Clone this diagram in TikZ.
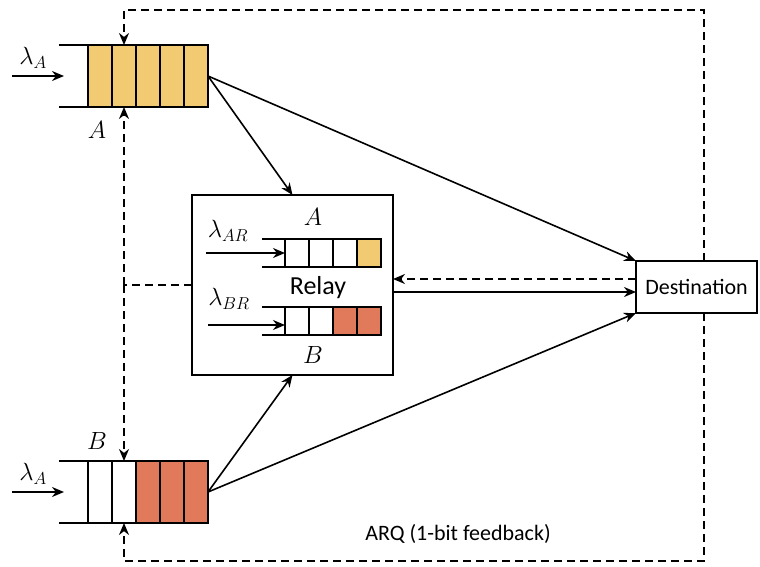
\documentclass[tikz,border=0pt]{standalone}
\usepackage{amsmath}
\usepackage{fontspec}
\setmainfont{Carlito}
\usepackage{tikz}
\usetikzlibrary{shapes.geometric, arrows.meta, positioning}
\definecolor{qyellow}{HTML}{F2CA72}
\definecolor{qred}{HTML}{E07A5A}
\tikzstyle{cell} = [rectangle, draw=black, line width=1.8pt, minimum width=24pt, minimum height=62pt, inner sep=0pt, outer sep=0pt]
\tikzstyle{smallcell} = [rectangle, draw=black, line width=1.8pt, minimum width=24pt, minimum height=28pt, inner sep=0pt, outer sep=0pt]
\tikzstyle{box} = [rectangle, draw=black, line width=1.5pt, text centered, outer sep=0pt]
\tikzstyle{arrow} = [line width=1.6pt,->,>={Stealth[length=12pt,width=10pt]}]
\tikzstyle{fb} = [line width=1.6pt, dash pattern=on 8pt off 5pt]
\tikzstyle{fbarrow} = [fb,->,>={Stealth[length=12pt,width=10pt]}]
\tikzstyle{mathlabel} = [font=\fontsize{26}{30}\selectfont]

\begin{document}
\begin{tikzpicture}[x=1pt, y=-1pt, node distance=24pt, font=\fontsize{22}{26}\selectfont]
    \useasboundingbox (0,0) rectangle (760,566);

    % queue A
    \node (qA1) [cell, fill=qyellow] at (100,76) {};
    \node (qA2) [cell, fill=qyellow, right of=qA1] {};
    \node (qA3) [cell, fill=qyellow, right of=qA2] {};
    \node (qA4) [cell, fill=qyellow, right of=qA3] {};
    \node (qA5) [cell, fill=qyellow, right of=qA4] {};
    \draw [line width=1.8pt] (qA1.north west) -- +(-29,0);
    \draw [line width=1.8pt] (qA1.south west) -- +(-29,0);
    \node (lamA) [mathlabel] at (33,58) {$\lambda_A$};
    \node (labA) [mathlabel] at (97,130) {$A$};
    \coordinate (inA) at (12,76);
    \coordinate (inAend) at (64,76);
    \draw [arrow] (inA) -- (inAend);

    % queue B
    \node (qB1) [cell] at (100,492) {};
    \node (qB2) [cell, right of=qB1] {};
    \node (qB3) [cell, fill=qred, right of=qB2] {};
    \node (qB4) [cell, fill=qred, right of=qB3] {};
    \node (qB5) [cell, fill=qred, right of=qB4] {};
    \draw [line width=1.8pt] (qB1.north west) -- +(-29,0);
    \draw [line width=1.8pt] (qB1.south west) -- +(-29,0);
    \node (lamB) [mathlabel] at (33,474) {$\lambda_A$};
    \node (labB) [mathlabel] at (97,441) {$B$};
    \coordinate (inB) at (12,492);
    \coordinate (inBend) at (64,492);
    \draw [arrow] (inB) -- (inBend);

    % relay
    \node (relay) [box, minimum width=201pt, minimum height=180pt] at (292.5,285) {};
    \node (relaytxt) [font=\fontsize{26}{30}\selectfont] at (318,288) {Relay};
    \node (rA1) [smallcell] at (297,253) {};
    \node (rA2) [smallcell, right of=rA1] {};
    \node (rA3) [smallcell, right of=rA2] {};
    \node (rA4) [smallcell, fill=qyellow, right of=rA3] {};
    \draw [line width=1.8pt] (rA1.north west) -- +(-23,0);
    \draw [line width=1.8pt] (rA1.south west) -- +(-23,0);
    \node (rB1) [smallcell] at (297,321) {};
    \node (rB2) [smallcell, right of=rB1] {};
    \node (rB3) [smallcell, fill=qred, right of=rB2] {};
    \node (rB4) [smallcell, fill=qred, right of=rB3] {};
    \draw [line width=1.8pt] (rB1.north west) -- +(-23,0);
    \draw [line width=1.8pt] (rB1.south west) -- +(-23,0);
    \node (lamAR) [mathlabel] at (228,231) {$\lambda_{AR}$};
    \node (lamBR) [mathlabel] at (229,299) {$\lambda_{BR}$};
    \node (labrA) [mathlabel] at (313,217) {$A$};
    \node (labrB) [mathlabel] at (313,355) {$B$};
    \coordinate (inAR) at (206,253);
    \coordinate (inBR) at (208,325);
    \draw [arrow] (inAR) -- (inAR -| rA1.west);
    \draw [arrow] (inBR) -- (inBR -| rB1.west);

    % destination
    \node (dest) [box, minimum width=121pt, minimum height=52pt, fill=white] at (696.5,287) {Destination};

    % feedback (dashed)
    \coordinate (fbtop) at (704,10);
    \coordinate (fbbot) at (704,561);
    \coordinate (fbmid) at (124,285);
    \draw [fbarrow] (dest.north -| fbtop) -- (fbtop) -| (qA2.north);
    \draw [fbarrow] (dest.south -| fbbot) -- (fbbot) -| (qB2.south);
    \draw [fb] (relay.west) -- (fbmid);
    \draw [fbarrow] (fbmid) -- (qA2.south);
    \draw [fbarrow] (fbmid) -- (qB2.north);
    \draw [fbarrow] ([yshift=8pt]dest.west) -- ([yshift=8pt]dest.west -| relay.east);
    \node (arq) at (458,534) {ARQ (1-bit feedback)};

    % data links
    \draw [arrow] ([yshift=-7pt]relay.east) -- ([yshift=-7pt]relay.east -| dest.west);
    \draw [arrow] (qA5.east) -- (relay.north);
    \draw [arrow] (qA5.east) -- (dest.north west);
    \draw [arrow] (qB5.east) -- (relay.south);
    \draw [arrow] (qB5.east) -- (dest.south west);
\end{tikzpicture}
\end{document}
